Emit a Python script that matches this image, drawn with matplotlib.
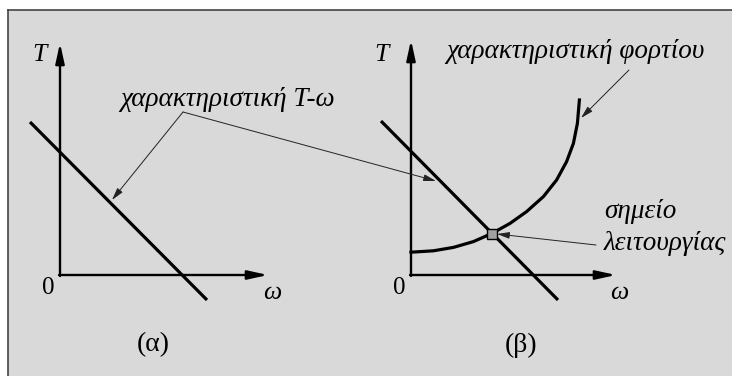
import numpy as np
import matplotlib
matplotlib.use("Agg")
import matplotlib.pyplot as plt
from matplotlib.patches import Rectangle, ConnectionPatch
from matplotlib.lines import Line2D

plt.rcParams['font.family'] = ['Liberation Serif', 'DejaVu Serif']

# motor T-w characteristic (same in both panels), endpoints in (w, T)
line_a_w = [-1.5, 7.35]
line_a_T = [7.65, -1.25]
line_b_w = [-1.5, 7.35]
line_b_T = [7.7, -1.25]

# load characteristic
load_w = [0.0, 1.12, 2.12, 3.12, 4.05, 4.95, 5.78, 6.62, 7.28, 7.78, 8.12, 8.32, 8.42]
load_T = [1.14, 1.21, 1.38, 1.67, 2.08, 2.58, 3.17, 3.92, 4.75, 5.67, 6.58, 7.58, 8.75]

# operating point
op_w, op_T = 4.05, 2.05

W, H = 732, 376
fig = plt.figure(figsize=(W / 100, H / 100), dpi=100)
fig.patch.set_facecolor('white')

# grey panel with dark border on the left and top
bg = Rectangle((8 / W, 0), 1, (H - 10) / H, transform=fig.transFigure,
               facecolor='#d9d9d9', edgecolor='none', zorder=-10)
fig.patches.append(bg)
fig.lines.append(Line2D([8 / W, 8 / W], [0, (H - 10) / H], transform=fig.transFigure,
                        color='#444444', lw=1.2))
fig.lines.append(Line2D([8 / W, 1], [(H - 10) / H, (H - 10) / H], transform=fig.transFigure,
                        color='#444444', lw=1.2))


def make_axes(left_px, x0_px):
    # 1 data unit = 20 px, origin at (x0_px, 275)
    ax = fig.add_axes([left_px / W, 0, 366 / W, 1])
    ax.set_xlim((left_px - x0_px) / 20, (left_px + 366 - x0_px) / 20)
    ax.set_ylim((275 - H) / 20, 275 / 20)
    ax.axis('off')
    return ax


ax_a = make_axes(0, 60)
ax_b = make_axes(366, 411)

axis_arrow = dict(arrowstyle='-|>,head_length=1.0,head_width=0.22', color='black',
                  lw=1.7, shrinkA=0, shrinkB=0, mutation_scale=12)
leader = dict(arrowstyle='-|>,head_length=0.75,head_width=0.2', color='#222222',
              lw=0.7, shrinkA=0, shrinkB=0, mutation_scale=10)

txt = dict(fontsize=18.5, style='italic', ha='center', va='center')
gtxt = dict(fontsize=19.5, style='italic', va='center')

# panel (a)
ax_a.annotate('', xy=(0, 11.6), xytext=(0, -0.05), arrowprops=axis_arrow)
ax_a.annotate('', xy=(10.4, 0), xytext=(-0.05, 0), arrowprops=axis_arrow)
ax_a.plot(line_a_w, line_a_T, color='black', lw=2.3, solid_capstyle='butt')
ax_a.text(-1.0, 11.0, 'T', **txt)
ax_a.text(-0.6, -0.65, '0', fontsize=18, ha='center', va='center')
ax_a.text(10.6, -0.9, 'ω', **txt)
ax_a.text(4.65, -3.5, '(α)', fontsize=20, ha='center', va='center')
ax_a.text(8.35, 8.8, 'χαρακτηριστική Τ-ω', ha='center', **gtxt)
ax_a.annotate('', xy=(2.6, 3.75), xytext=(6.15, 8.15), arrowprops=leader)

con = ConnectionPatch(xyA=(6.15, 8.15), coordsA=ax_a.transData,
                      xyB=(1.25, 4.7), coordsB=ax_b.transData, **leader)
fig.add_artist(con)

# panel (b)
ax_b.annotate('', xy=(0, 11.75), xytext=(0, -0.05), arrowprops=axis_arrow)
ax_b.annotate('', xy=(10.25, 0), xytext=(-0.05, 0), arrowprops=axis_arrow)
ax_b.plot(line_b_w, line_b_T, color='black', lw=2.3, solid_capstyle='butt')
ax_b.plot(load_w, load_T, color='black', lw=2.3, solid_joinstyle='round')
ax_b.plot([op_w], [op_T], marker='s', ms=6.5, mfc='#a0a0a0', mec='black', mew=1.0)
ax_b.text(-1.5, 11.0, 'T', **txt)
ax_b.text(-0.6, -0.65, '0', fontsize=18, ha='center', va='center')
ax_b.text(10.4, -0.9, 'ω', **txt)
ax_b.text(5.5, -3.5, '(β)', fontsize=20, ha='center', va='center')
ax_b.text(8.2, 11.15, 'χαρακτηριστική φορτίου', ha='center', **gtxt)
ax_b.annotate('', xy=(8.5, 7.85), xytext=(10.9, 10.25), arrowprops=leader)
ax_b.text(9.65, 3.15, 'σημείο', ha='left', **gtxt)
ax_b.text(9.65, 1.6, 'λειτουργίας', ha='left', **gtxt)
ax_b.annotate('', xy=(4.3, 2.05), xytext=(9.25, 1.5), arrowprops=leader)

fig.savefig('out.png', dpi=100, facecolor=fig.get_facecolor())
